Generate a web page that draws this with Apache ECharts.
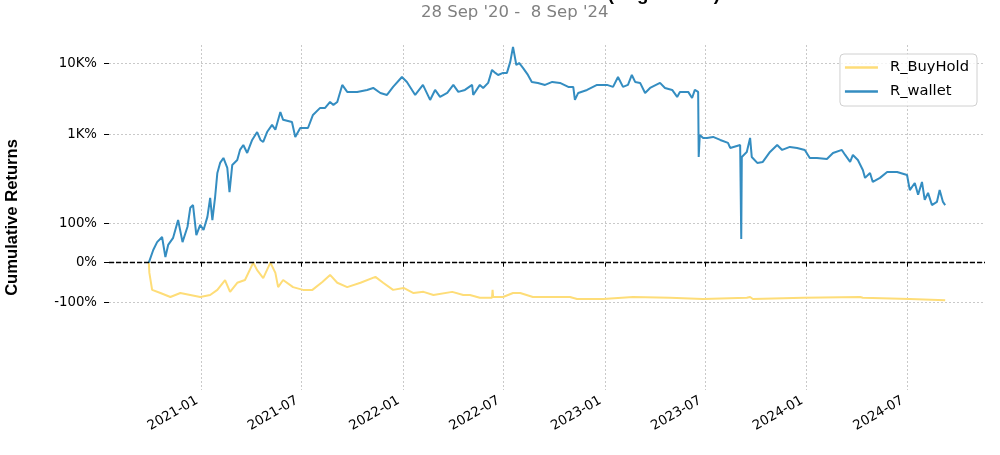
<!DOCTYPE html>
<html><head><meta charset="utf-8">
<script src="https://cdn.jsdelivr.net/npm/echarts@6/dist/echarts.min.js"></script>
<style>html,body{margin:0;padding:0;background:#fff}#c{width:1000px;height:455px}</style>
</head><body><div id="c"></div>
<script>
// ---- data (cumulative returns, 1 = 100%) ----
const startDate = '2020-09-28';
const endDate = '2024-09-08';
const titleText = 'Cumulative Returns vs Benchmark (Log Scaled)';
const subtitleText = "28 Sep '20 -  8 Sep '24";
const seriesNames = ['R_BuyHold', 'R_wallet'];
// days since startDate
const walletDays = [
  0,8,15,24,30,35,44,53,61,70,
  75,80,86,93,99,106,111,115,120,124,
  129,135,142,146,151,160,165,171,178,187,
  196,202,207,214,223,229,238,243,259,265,
  274,288,297,310,319,328,334,341,350,359,
  377,395,406,419,431,442,458,467,482,496,
  509,518,527,540,551,560,572,585,587,599,
  605,614,621,627,632,641,648,654,659,665,
  670,677,686,693,704,717,730,744,759,768,
  771,777,793,811,829,840,849,858,867,874,
  880,889,898,907,925,934,947,956,961,976,
  983,988,994,995,997,1003,1010,1021,1034,1048,
  1052,1070,1072,1073,1082,1088,1091,1101,1111,1124,
  1137,1146,1160,1173,1187,1196,1209,1227,1238,1254,
  1260,1269,1274,1283,1292,1296,1305,1310,1323,1336,
  1354,1372,1377,1386,1392,1399,1404,1410,1417,1426,
  1431,1437,1441
];
const walletValues = [
  0,0.32,0.52,0.65,0.14,0.45,0.63,1.08,0.52,0.91,
  1.39,1.46,0.70,0.96,0.83,1.16,1.64,1.08,1.67,2.84,
  3.93,4.62,3.34,1.79,3.68,4.33,5.99,7.04,5.43,8.28,
  10.7,8.28,7.76,10.7,13.5,11.5,20.5,15.9,14.8,9.13,
  12.2,12.2,18.6,23.4,23.4,28.4,25.8,28.4,49.3,39.3,
  39.3,41.9,44.7,38.0,35.6,46.2,63.8,54.3,35.6,49.3,
  30.3,41.9,33.4,38.0,49.3,39.3,41.9,49.3,35.6,49.3,
  44.7,52.6,80.2,72.8,68.1,72.8,72.8,104,169,94.2,
  100.5,85.5,68.1,54.3,52.6,49.3,54.3,52.6,46.2,46.2,
  30.3,38.0,41.9,49.3,49.3,46.2,63.8,46.2,49.3,68.1,
  54.3,52.6,38.0,44.7,52.6,44.7,41.9,33.4,39.3,39.3,
  32.3,41.9,39.3,4.77,9.74,8.84,8.84,9.13,8.28,7.52,
  6.39,7.04,0.60,4.77,5.61,8.84,4.77,3.93,4.06,5.61,
  7.04,5.99,6.60,6.39,5.99,4.62,4.62,4.47,5.43,5.99,
  5.09,4.06,5.09,4.33,3.13,2.42,2.84,2.12,2.42,2.93,
  2.93,2.66,1.84,2.05,1.72,2.12,1.59,1.77,1.46,1.54,
  1.84,1.54,1.46
];
const holdDays = [
  0,1,6,21,39,57,75,93,111,124,
  138,147,160,174,189,196,207,220,229,234,
  243,261,279,296,314,328,341,359,383,410,
  424,442,461,479,497,515,549,569,581,599,
  621,622,623,641,659,672,695,762,775,822,
  876,943,1003,1082,1088,1093,1184,1287,1292,1377,
  1441
];
const holdValues = [
  0,-0.26,-0.69,-0.77,-0.87,-0.77,-0.82,-0.87,-0.82,-0.69,
  -0.44,-0.74,-0.51,-0.44,0,-0.19,-0.39,0,-0.26,-0.62,
  -0.44,-0.62,-0.69,-0.69,-0.49,-0.31,-0.51,-0.62,-0.51,-0.36,
  -0.51,-0.69,-0.64,-0.77,-0.74,-0.82,-0.74,-0.82,-0.82,-0.89,
  -0.89,-0.69,-0.87,-0.87,-0.77,-0.77,-0.87,-0.87,-0.92,-0.92,
  -0.87,-0.89,-0.92,-0.89,-0.87,-0.92,-0.89,-0.87,-0.89,-0.92,
  -0.95
];
const yTickValues = [-1, 0, 1, 10, 100];
const yTickLabels = ['-100%', '0%', '100%', '1K%', '10K%'];
const xTickDates = ['2021-01-01','2021-07-01','2022-01-01','2022-07-01','2023-01-01','2023-07-01','2024-01-01','2024-07-01'];

// ---- symlog scale (linthresh 2, linscale 1, base 10) ----
const LINTHRESH = 2, LINSCALE = 1, BASE = 10;
const linAdj = LINSCALE / (1 - 1 / BASE);
function symlog(v) {
  const a = Math.abs(v);
  if (a <= LINTHRESH) return v * linAdj;
  return Math.sign(v) * LINTHRESH * (linAdj + Math.log(a / LINTHRESH) / Math.log(BASE));
}
const DAY = 86400000;
const t0 = Date.parse(startDate + 'T00:00:00Z');
const t1 = Date.parse(endDate + 'T00:00:00Z');
const span = t1 - t0;
const toTs = d => t0 + d * DAY;
const xTicks = xTickDates.map(s => Date.parse(s + 'T00:00:00Z'));
const yTicksT = yTickValues.map(symlog);
const yMin = -3.586, yMax = 6.13;

const walletData = walletDays.map((d, i) => [toTs(d), symlog(walletValues[i])]);
const holdData = holdDays.map((d, i) => [toTs(d), symlog(holdValues[i])]);

function fmtDate(v) {
  const dt = new Date(v);
  const m = dt.getUTCMonth() + 1;
  return dt.getUTCFullYear() + '-' + (m < 10 ? '0' + m : m);
}
function fmtY(v) {
  let best = 0, bd = Infinity;
  yTicksT.forEach((t, i) => { const d = Math.abs(t - v); if (d < bd) { bd = d; best = i; } });
  return yTickLabels[best];
}

const chart = echarts.init(document.getElementById('c'), null, {renderer: 'canvas'});
chart.setOption({
  animation: false,
  backgroundColor: '#fff',
  graphic: [
    {type: 'text', x: 720, y: 4, style: {text: titleText, align: 'right', verticalAlign: 'bottom',
      font: 'bold 18.7px "Liberation Sans", Arial, sans-serif', fill: '#000'}},
    {type: 'text', x: 421, y: 4, style: {text: subtitleText, align: 'left', verticalAlign: 'top',
      font: '16.5px "DejaVu Sans", sans-serif', fill: '#808080'}}
  ],
  legend: {
    orient: 'vertical', right: 23, top: 54,
    data: seriesNames,
    icon: 'rect', itemWidth: 33, itemHeight: 2.5, itemGap: 9,
    padding: [6, 8, 7, 5],
    backgroundColor: 'rgba(255,255,255,0.8)',
    borderColor: '#d0d0d0', borderWidth: 1, borderRadius: 4,
    textStyle: {fontFamily: 'DejaVu Sans', fontSize: 14.7, color: '#000', padding: [0, 0, 0, 7]}
  },
  grid: {left: 109, right: 15, top: 45, bottom: 65, containLabel: false, outerBoundsMode: 'none'},
  xAxis: {
    type: 'value', min: t0 - 0.05 * span, max: t1 + 0.05 * span,
    axisLine: {show: false},
    axisTick: {show: true, customValues: xTicks, length: 4, lineStyle: {color: '#000', width: 1}},
    axisLabel: {customValues: xTicks, formatter: fmtDate, rotate: 30, margin: 7,
      padding: [0, 5, 0, 0],
      fontFamily: 'DejaVu Sans', fontSize: 13.3, color: '#000'},
    splitLine: {show: true, lineStyle: {color: '#bbbbbb', width: 0.8, type: [2, 2]}}
  },
  yAxis: {
    type: 'value', min: yMin, max: yMax,
    name: 'Cumulative Returns', nameLocation: 'middle', nameGap: 88,
    nameTextStyle: {fontFamily: 'Liberation Sans', fontWeight: 'bold', fontSize: 16.6, color: '#000'},
    axisLine: {show: false},
    axisTick: {show: true, customValues: yTicksT, length: 5, lineStyle: {color: '#000', width: 1}},
    axisLabel: {customValues: yTicksT, formatter: fmtY, margin: 12,
      fontFamily: 'DejaVu Sans', fontSize: 13.3, color: '#000'},
    splitLine: {show: true, lineStyle: {color: '#bbbbbb', width: 0.8, type: [2, 2]}}
  },
  series: [
    {name: seriesNames[0], type: 'line', data: holdData, showSymbol: false, symbol: 'none',
     lineStyle: {color: '#fedd78', width: 2}, itemStyle: {color: '#fedd78'}, z: 2,
     markLine: {silent: true, symbol: 'none', label: {show: false},
       lineStyle: {color: '#000', type: [5, 2], width: 1.3}, data: [{yAxis: 0}]}},
    {name: seriesNames[1], type: 'line', data: walletData, showSymbol: false, symbol: 'none',
     lineStyle: {color: '#348dc1', width: 2}, itemStyle: {color: '#348dc1'}, z: 3}
  ]
});
</script></body></html>
